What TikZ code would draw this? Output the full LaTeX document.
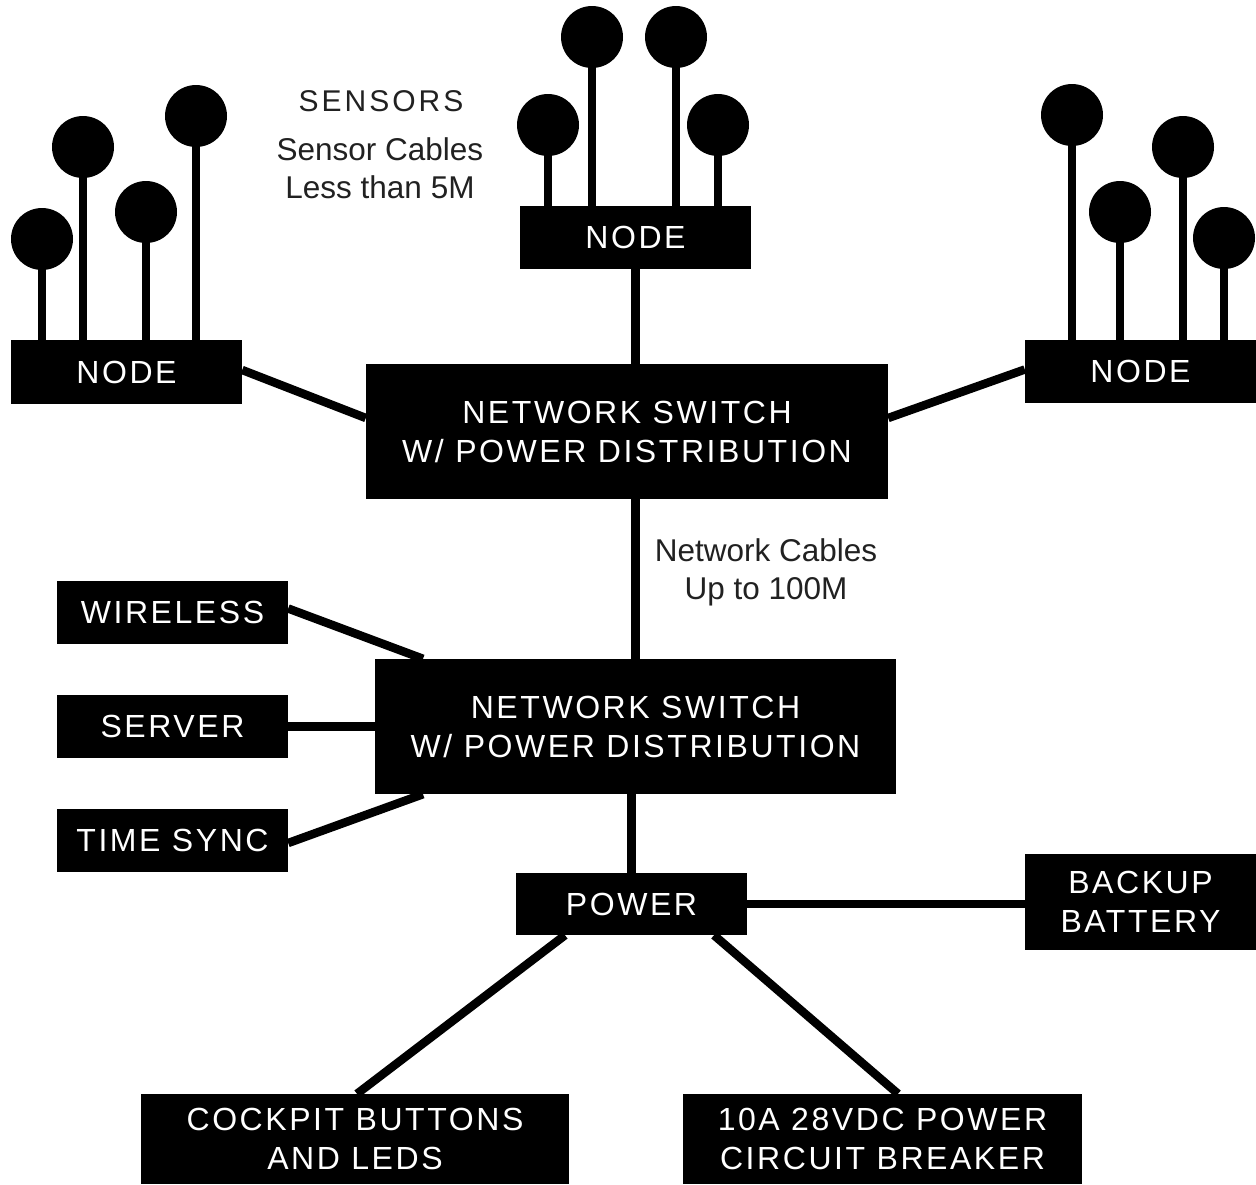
\documentclass[tikz,border=0pt]{standalone}
\usepackage{fontspec}
\setmainfont{Liberation Sans}
\newfontfamily\boxfont[LetterSpace=8]{Liberation Sans}
\newfontfamily\spacedfont[LetterSpace=10]{Liberation Sans}
\usetikzlibrary{calc}
\begin{document}
\begin{tikzpicture}[x=1pt,y=-1pt,
  box/.style={fill=black,text=white,inner sep=0pt,align=center,font=\boxfont\fontsize{32}{39}\selectfont},
  sensor/.style={circle,fill=black,minimum size=62pt,inner sep=0pt},
  wire/.style={line width=8.5pt},
  stem/.style={line width=8pt},
  lbl/.style={text=black!87,align=center,inner sep=0pt,font=\fontsize{31.5}{38}\selectfont}]
\path[use as bounding box,fill=white] (0,0) rectangle (1256,1184);

% boxes
\node[box,minimum width=231pt,minimum height=64pt] (nodeL) at (126.5,372) {NODE};
\node[box,minimum width=231pt,minimum height=63pt] (nodeT) at (635.5,237.5) {NODE};
\node[box,minimum width=231pt,minimum height=63pt] (nodeR) at (1140.5,371.5) {NODE};
\node[box,minimum width=522pt,minimum height=135pt] (sw1) at (627,431.5) {NETWORK SWITCH\\W/ POWER DISTRIBUTION};
\node[box,minimum width=521pt,minimum height=135pt] (sw2) at (635.5,726.5) {NETWORK SWITCH\\W/ POWER DISTRIBUTION};
\node[box,minimum width=231pt,minimum height=63pt] (wireless) at (172.5,612.5) {WIRELESS};
\node[box,minimum width=231pt,minimum height=63pt] (server) at (172.5,726.5) {SERVER};
\node[box,minimum width=231pt,minimum height=63pt] (timesync) at (172.5,840.5) {TIME SYNC};
\node[box,minimum width=231pt,minimum height=62pt] (power) at (631.5,904) {POWER};
\node[box,minimum width=231pt,minimum height=96pt] (backup) at (1140.5,902) {BACKUP\\BATTERY};
\node[box,minimum width=428pt,minimum height=90pt] (cockpit) at (355,1139) {COCKPIT BUTTONS\\AND LEDS};
\node[box,minimum width=399pt,minimum height=90pt] (breaker) at (882.5,1139) {10A 28VDC POWER\\CIRCUIT BREAKER};

% sensors
\node[sensor] (l1) at (42,239) {};
\node[sensor] (l2) at (83,147) {};
\node[sensor] (l3) at (146,212) {};
\node[sensor] (l4) at (196,116) {};
\node[sensor] (t1) at (548,125) {};
\node[sensor] (t2) at (592,37) {};
\node[sensor] (t3) at (676,37) {};
\node[sensor] (t4) at (718,125) {};
\node[sensor] (r1) at (1072,115) {};
\node[sensor] (r2) at (1120,212) {};
\node[sensor] (r3) at (1183,147) {};
\node[sensor] (r4) at (1224,238) {};
\foreach \s in {l1,l2,l3,l4} \draw[stem] (\s.center) -- (\s.center |- nodeL.north);
\foreach \s in {t1,t2,t3,t4} \draw[stem] (\s.center) -- (\s.center |- nodeT.north);
\foreach \s in {r1,r2,r3,r4} \draw[stem] (\s.center) -- (\s.center |- nodeR.north);

% connectors
\draw[wire] ([yshift=2pt]nodeL.east) -- ([yshift=13.5pt]sw1.west);
\draw[wire] ([yshift=2pt]nodeR.west) -- ([yshift=13.5pt]sw1.east);
\draw[wire] (nodeT.south) -- (nodeT.south |- sw1.north);
\draw[wire] (sw2.north) -- (sw2.north |- sw1.south);
\draw[wire] (power.north) -- (power.north |- sw2.south);
\draw[wire] ([yshift=4pt]wireless.east) -- ([xshift=-212.5pt]sw2.north);
\draw[wire] (server.east) -- (server.east -| sw2.west);
\draw[wire] ([yshift=-2.5pt]timesync.east) -- ([xshift=-212.5pt]sw2.south);
\draw[wire] (power.east) -- (power.east -| backup.west);
\draw[wire] ([xshift=-66.5pt]power.south) -- ([xshift=2pt]cockpit.north);
\draw[wire] ([xshift=82.5pt]power.south) -- ([xshift=15.5pt]breaker.north);

% labels
\node[lbl,font=\spacedfont\fontsize{30}{34}\selectfont] (sens) at (381,101) {SENSORS};
\node[lbl] (scab) at (380,168.5) {Sensor Cables\\Less than 5M};
\node[lbl] (ncab) at (766,572.5) {Network Cables\\Up to 100M};
\end{tikzpicture}
\end{document}
